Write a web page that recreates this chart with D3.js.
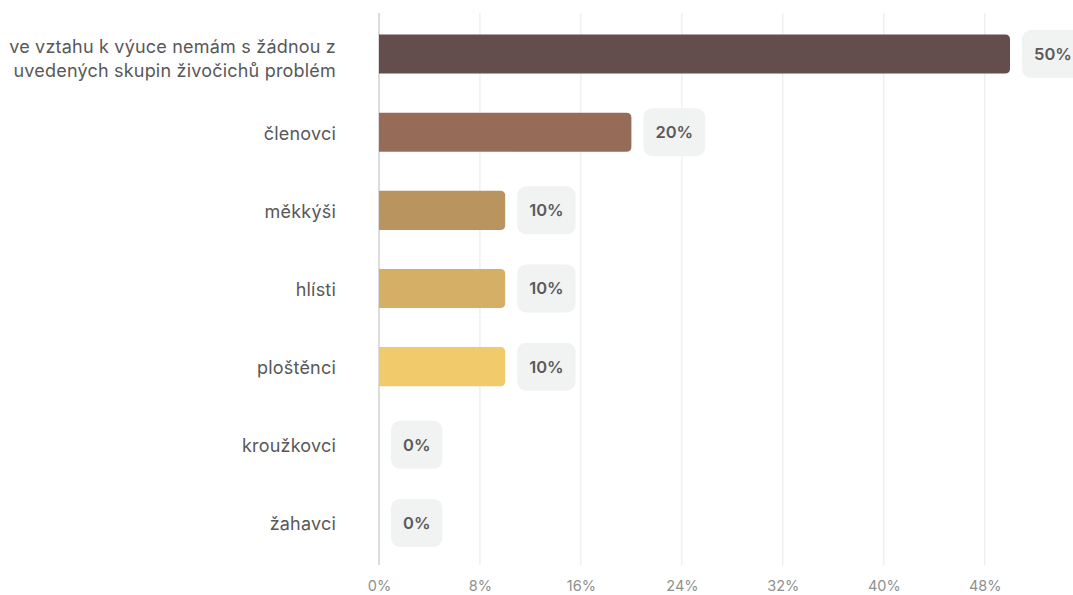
<!DOCTYPE html>
<html>
<head>
<meta charset="utf-8">
<script src="https://cdn.jsdelivr.net/npm/d3@7/dist/d3.min.js"></script>
<style>
  html, body { margin: 0; padding: 0; background: #fff; }
  svg { display: block; }
</style>
</head>
<body>
<svg id="chart" width="1073" height="595"></svg>
<script>
// Categories (top to bottom), their shares in percent and bar colours
const categories = [
  "ve vztahu k výuce nemám s žádnou z\nuvedených skupin živočichů problém",
  "členovci",
  "měkkýši",
  "hlísti",
  "ploštěnci",
  "kroužkovci",
  "žahavci"
];
const values = [50, 20, 10, 10, 10, 0, 0];
const colors = ["#634d4d", "#966c59", "#b9945f", "#d5af66", "#f0ca6b", "#f0ca6b", "#f0ca6b"];
const ticks = [0, 8, 16, 24, 32, 40, 48];

(function () {
  const svg = d3.select("#chart");
  const plotLeft = 379, plotRight = 1010, plotTop = 13, plotBottom = 565;
  const font = "Inter, 'Noto Sans', sans-serif";

  const x = d3.scaleLinear().domain([0, 50]).range([plotLeft, plotRight]);
  const y = d3.scaleBand()
    .domain(d3.range(categories.length))
    .range([15, 562])
    .paddingInner(0.5)
    .paddingOuter(0.25);

  // Vertical gridlines
  svg.append("g").selectAll("line")
    .data(ticks.slice(1))
    .join("line")
    .attr("x1", d => x(d)).attr("x2", d => x(d))
    .attr("y1", plotTop).attr("y2", plotBottom)
    .attr("stroke", "#e8e8e8").attr("stroke-width", 1);

  // Zero baseline
  svg.append("line")
    .attr("x1", x(0)).attr("x2", x(0))
    .attr("y1", plotTop).attr("y2", plotBottom)
    .attr("stroke", "#dcdcdc").attr("stroke-width", 2);

  // Bottom axis tick labels
  const xAxis = d3.axisBottom(x).tickValues(ticks).tickFormat(d => d + "%").tickSize(0).tickPadding(0);
  const ax = svg.append("g").attr("transform", `translate(0, ${plotBottom + 16})`).call(xAxis);
  ax.select(".domain").remove();
  ax.selectAll("text")
    .attr("font-family", font)
    .attr("font-size", 14.5)
    .attr("fill", "#8f8f8f");

  // Bars with rounded right end
  const r = 5;
  function barPath(x0, x1, y0, h) {
    const w = x1 - x0;
    if (w <= 0) return "";
    const rr = Math.min(r, w, h / 2);
    return `M${x0},${y0}H${x1 - rr}Q${x1},${y0} ${x1},${y0 + rr}V${y0 + h - rr}Q${x1},${y0 + h} ${x1 - rr},${y0 + h}H${x0}Z`;
  }
  svg.append("g").selectAll("path")
    .data(values)
    .join("path")
    .attr("d", (d, i) => barPath(x(0), x(d), y(i), y.bandwidth()))
    .attr("fill", (d, i) => colors[i]);

  // Value badges
  const badges = svg.append("g").selectAll("g")
    .data(values)
    .join("g")
    .attr("transform", (d, i) => `translate(${x(d) + 12}, ${y(i) + y.bandwidth() / 2})`);
  badges.each(function (d) {
    const g = d3.select(this);
    const t = g.append("text")
      .text(d + "%")
      .attr("font-family", font)
      .attr("font-weight", 600)
      .attr("font-size", 16.5)
      .attr("fill", "#5a5a5a")
      .attr("dy", "0.36em");
    const tw = t.node().getComputedTextLength();
    const pad = 12;
    g.insert("rect", "text")
      .attr("x", 0).attr("y", -24)
      .attr("width", tw + pad * 2).attr("height", 48)
      .attr("rx", 9)
      .attr("fill", "#f1f2f2");
    t.attr("x", pad);
  });

  // Category labels
  const fs = 18, lh = 24;
  const labels = svg.append("g").selectAll("text")
    .data(categories)
    .join("text")
    .attr("text-anchor", "end")
    .attr("font-family", font)
    .attr("font-size", fs)
    .attr("letter-spacing", 0.2)
    .attr("fill", "#585858");
  labels.each(function (d, i) {
    const lines = d.split("\n");
    const t = d3.select(this);
    const first = y(i) + y.bandwidth() / 2 + 7.5 - (lines.length - 1) * 9;
    lines.forEach((line, k) => {
      t.append("tspan")
        .attr("x", 336)
        .attr("y", first + k * lh)
        .text(line);
    });
  });
})();
</script>
</body>
</html>
